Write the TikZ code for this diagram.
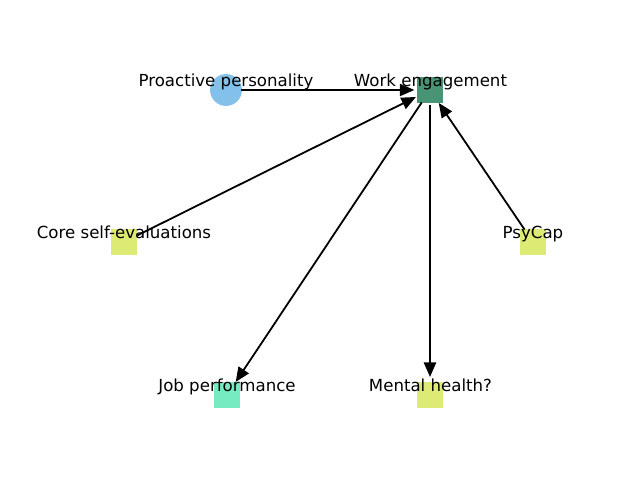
\documentclass[tikz,border=0pt]{standalone}
\usepackage{fontspec}
\setmainfont{DejaVu Sans}
\usetikzlibrary{arrows.meta}
\definecolor{cblue}{RGB}{131,192,234}
\definecolor{cgreen}{RGB}{74,148,118}
\definecolor{cyellow}{RGB}{221,234,115}
\definecolor{caqua}{RGB}{118,234,192}
\tikzset{
  circnode/.style={circle,draw=none,fill=cblue,minimum size=23pt,inner sep=0pt,outer sep=0pt},
  sqnode/.style={rectangle,draw=none,minimum size=18.7pt,inner sep=0pt,outer sep=0pt},
  lbl/.style={anchor=base,inner sep=0pt,font=\fontsize{12}{14}\selectfont},
  edge/.style={line width=1.3pt,-{Triangle[length=10.5pt,width=8.8pt]},shorten <=10.8pt,shorten >=11.3pt}
}
\begin{document}
\begin{tikzpicture}[x=0.01in,y=-0.01in]
\useasboundingbox (0,0) rectangle (640,480);
% nodes
\node[circnode] (pp) at (226,90) {};
\node[sqnode,fill=cgreen] (we) at (430,90) {};
\node[sqnode,fill=cyellow] (cse) at (124,242) {};
\node[sqnode,fill=cyellow] (psy) at (533,242) {};
\node[sqnode,fill=caqua] (jp) at (227,395) {};
\node[sqnode,fill=cyellow] (mh) at (430,395) {};
% edges
\draw[edge] (pp.center) -- (we.center);
\draw[edge] (cse.center) -- (we.center);
\draw[edge] (psy.center) -- (we.center);
\draw[edge] (we.center) -- (jp.center);
\draw[edge,shorten >=13pt] (we.center) -- (mh.center);
% labels
\node[lbl] (lpp) at (226,86.7) {Proactive personality};
\node[lbl] (lwe) at (430.5,86.7) {Work engagement};
\node[lbl] (lcse) at (124,238.5) {Core self-evaluations};
\node[lbl] (lpsy) at (533,238.5) {PsyCap};
\node[lbl] (ljp) at (227,391.7) {Job performance};
\node[lbl] (lmh) at (430.5,391.7) {Mental health?};
\end{tikzpicture}
\end{document}
